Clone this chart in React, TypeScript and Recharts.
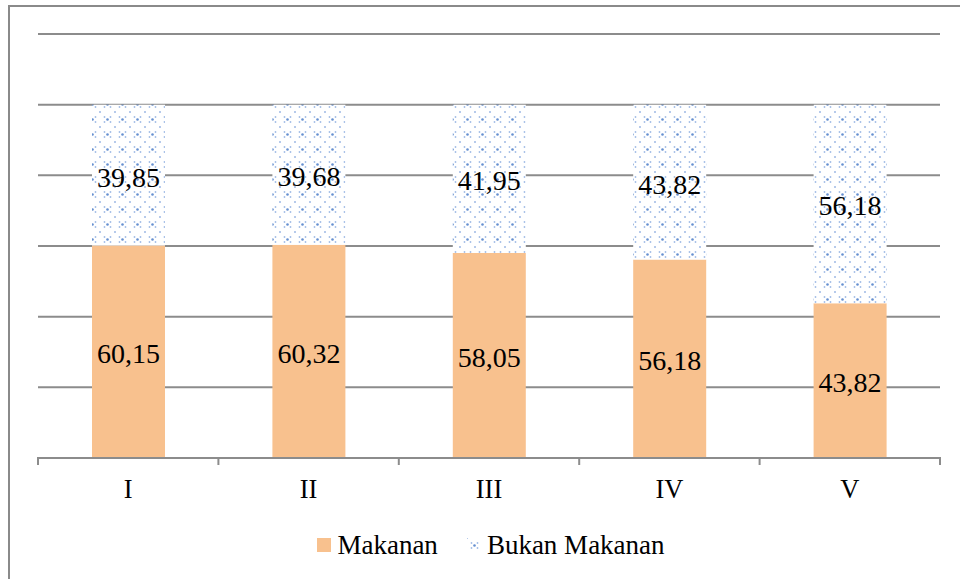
import React from "react";
import { BarChart, Bar, XAxis, YAxis, CartesianGrid, LabelList, Legend } from "recharts";

const kelompok = ["I", "II", "III", "IV", "V"];
const makanan = [60.15, 60.32, 58.05, 56.18, 43.82];
const bukanMakanan = [39.85, 39.68, 41.95, 43.82, 56.18];
const yTicks = [0, 20, 40, 60, 80, 100, 120];

const data = kelompok.map((k, i) => ({ name: k, makanan: makanan[i], bukan: bukanMakanan[i] }));

const FONT = "'Liberation Serif', 'Times New Roman', serif";
const ORANGE = "#f8c18e";
const GRID = "#8c8c8c";

const fmt = (v: any) => String(v).replace(".", ",");

// dotted fill used for "Bukan Makanan"
function DotPattern({ id }: { id: string }) {
  return (
    <pattern id={id} width="15" height="15" patternUnits="userSpaceOnUse">
      <rect width="15" height="15" fill="#ffffff" />
      <circle cx="7.5" cy="7.5" r="1.3" fill="#4a7cc8" opacity={0.85} />
      <circle cx="4.5" cy="5" r="0.9" fill="#7aa0da" opacity={0.7} />
      <circle cx="10.5" cy="5" r="0.9" fill="#7aa0da" opacity={0.7} />
      <circle cx="4.5" cy="10" r="0.9" fill="#7aa0da" opacity={0.7} />
      <circle cx="10.5" cy="10" r="0.9" fill="#7aa0da" opacity={0.7} />
      <circle cx="0" cy="0" r="1" fill="#5b8bd4" opacity={0.6} />
      <circle cx="15" cy="0" r="1" fill="#5b8bd4" opacity={0.6} />
      <circle cx="0" cy="15" r="1" fill="#5b8bd4" opacity={0.6} />
      <circle cx="15" cy="15" r="1" fill="#5b8bd4" opacity={0.6} />
    </pattern>
  );
}

function BarLabel(props: any) {
  const { x, y, width, height, value } = props;
  return (
    <text
      x={x + width / 2}
      y={y + height / 2}
      dy={2}
      textAnchor="middle"
      dominantBaseline="central"
      style={{ fontFamily: FONT, fontSize: 28, fill: "#000" }}
    >
      {fmt(value)}
    </text>
  );
}

function CategoryTick(props: any) {
  const { x, y, payload, index, visibleTicksCount } = props;
  const half = payload && payload.offset ? payload.offset : 0;
  const y1 = y - 25;
  return (
    <g>
      <line x1={x - half} x2={x - half} y1={y1} y2={y1 + 8} stroke={GRID} strokeWidth={2} />
      {index === visibleTicksCount - 1 && (
        <line x1={x + half} x2={x + half} y1={y1} y2={y1 + 8} stroke={GRID} strokeWidth={2} />
      )}
      <text x={x} y={y} dy="0.6em" textAnchor="middle" style={{ fontFamily: FONT, fontSize: 26.5, fill: "#000" }}>
        {payload.value}
      </text>
    </g>
  );
}

function LegendContent() {
  const item = (fill: string, label: string) => (
    <div style={{ display: "flex", alignItems: "center", gap: 6 }}>
      <svg width={14} height={14}>
        <defs>
          <DotPattern id="legendDots" />
        </defs>
        <rect width={14} height={14} fill={fill} />
      </svg>
      <span style={{ fontFamily: FONT }}>{label}</span>
    </div>
  );
  return (
    <div style={{ display: "flex", justifyContent: "center", gap: 29, fontFamily: FONT, fontSize: 27, lineHeight: "30px", color: "#000", paddingLeft: 4, marginTop: -2 }}>
      {item(ORANGE, "Makanan")}
      {item("url(#legendDots)", "Bukan Makanan")}
    </div>
  );
}

export default function App() {
  return (
    <div
      style={{
        position: "absolute",
        top: 5,
        left: 8,
        width: 952,
        height: 574,
        borderTop: "2px solid #8a8a8a",
        borderLeft: "2px solid #8a8a8a",
        boxSizing: "border-box",
        fontFamily: FONT,
      }}
    >
      <BarChart
        width={942}
        height={572}
        data={data}
        margin={{ top: 27, right: 12, left: 28, bottom: 11 }}
        barSize={73}
      >
        <defs>
          <DotPattern id="dots" />
        </defs>
        <CartesianGrid vertical={false} stroke={GRID} strokeWidth={2} />
        <YAxis hide domain={[0, 120]} ticks={yTicks} />
        <XAxis
          dataKey="name"
          axisLine={{ stroke: GRID, strokeWidth: 2 }}
          tickLine={false}
          height={74}
          tick={<CategoryTick />}
          tickMargin={18}
        />
        <Legend verticalAlign="bottom" height={36} content={() => <LegendContent />} />
        <Bar dataKey="makanan" stackId="a" fill={ORANGE} isAnimationActive={false}>
          <LabelList dataKey="makanan" content={<BarLabel />} />
        </Bar>
        <Bar dataKey="bukan" stackId="a" fill="url(#dots)" isAnimationActive={false}>
          <LabelList dataKey="bukan" content={<BarLabel />} />
        </Bar>
      </BarChart>
    </div>
  );
}
